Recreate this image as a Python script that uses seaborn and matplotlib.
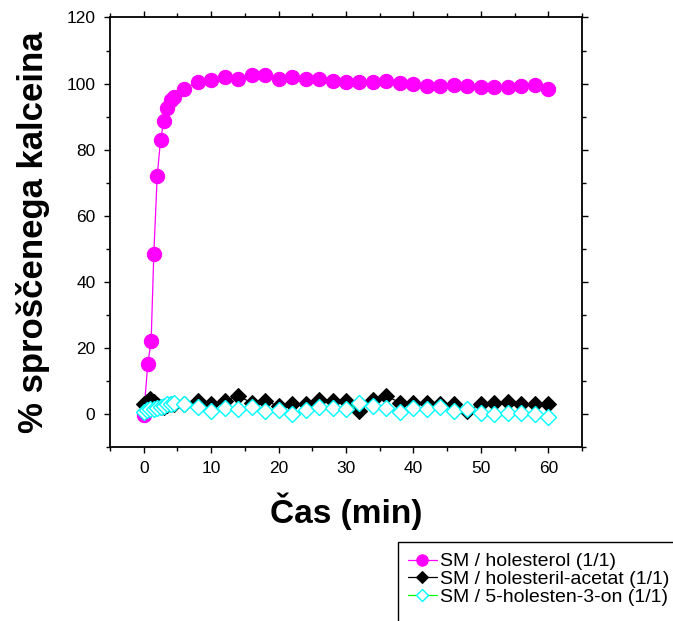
import matplotlib
matplotlib.use("Agg")
import matplotlib.pyplot as plt
import seaborn as sns
from matplotlib.ticker import MultipleLocator
from matplotlib.patches import Rectangle

# ---- data ----
t_chol = [0, 0.6, 1.1, 1.5, 2, 2.5, 3, 3.5, 4, 4.5, 6, 8, 10, 12, 14, 16, 18, 20,
          22, 24, 26, 28, 30, 32, 34, 36, 38, 40, 42, 44, 46, 48, 50, 52, 54, 56, 58, 60]
y_chol = [-0.5, 15.0, 22.0, 48.5, 72.0, 83.0, 88.8, 92.7, 95.0, 95.9, 98.3, 100.6, 101.1,
          102.0, 101.4, 102.5, 102.5, 101.4, 102.0, 101.5, 101.4, 100.8, 100.5, 100.6,
          100.4, 100.9, 100.3, 99.8, 99.3, 99.3, 99.5, 99.3, 99.0, 99.0, 99.0, 99.2, 99.6, 98.4]

t_acet = [0, 0.5, 1, 1.5, 2, 2.5, 3, 3.5, 4, 4.5, 6, 8, 10, 12, 14, 16, 18, 20,
          22, 24, 26, 28, 30, 32, 34, 36, 38, 40, 42, 44, 46, 48, 50, 52, 54, 56, 58, 60]
y_acet = [3.0, 3.5, 4.5, 3.5, 2.5, 2.0, 2.0, 2.5, 3.0, 3.0, 3.0, 3.9, 2.9, 3.9, 5.4, 3.3,
          3.9, 2.3, 3.0, 2.9, 4.1, 3.9, 3.9, 0.8, 4.1, 5.4, 3.3, 3.3, 3.3, 2.9, 2.9, 0.8,
          3.0, 3.3, 3.6, 3.0, 3.0, 3.0]

t_on = [0, 0.5, 1, 1.5, 2, 2.5, 3, 3.5, 4, 4.5, 6, 8, 10, 12, 14, 16, 18, 20,
        22, 24, 26, 28, 30, 32, 34, 36, 38, 40, 42, 44, 46, 48, 50, 52, 54, 56, 58, 60]
y_on = [0.5, 1.0, 1.3, 1.5, 1.8, 2.0, 2.3, 2.8, 3.0, 3.3, 2.9, 2.0, 0.8, 1.8, 1.3, 2.0,
        0.8, 1.0, -0.2, 1.0, 2.0, 1.8, 1.3, 3.3, 2.3, 1.8, 0.6, 1.8, 1.3, 2.0, 0.8, 1.3,
        0.3, -0.2, 0.3, 0.1, -0.2, -1.0]

labels = ["SM / holesterol (1/1)", "SM / holesteril-acetat (1/1)", "SM / 5-holesten-3-on (1/1)"]
xlabel = "Čas (min)"
ylabel = "% sproščenega kalceina"

# ---- style ----
sns.set_style("ticks")
plt.rcParams["font.family"] = ["Liberation Sans", "DejaVu Sans"]
plt.rcParams["text.color"] = "black"
plt.rcParams["axes.labelcolor"] = "black"
plt.rcParams["xtick.color"] = "black"
plt.rcParams["ytick.color"] = "black"

fig = plt.figure(figsize=(6.73, 6.21), dpi=100)
ax = fig.add_axes([110 / 673, 1 - 446.7 / 621, (582 - 110) / 673, (446.7 - 17.5) / 621])

sns.lineplot(x=t_chol, y=y_chol, ax=ax, color="#FF00FF", lw=0.9, marker="o",
             markersize=10.3, markeredgecolor="#FF00FF", markerfacecolor="#FF00FF",
             label=labels[0], sort=False, estimator=None)
sns.lineplot(x=t_acet, y=y_acet, ax=ax, color="black", lw=0.9, marker="D",
             markersize=8.0, markeredgecolor="black", markerfacecolor="black",
             label=labels[1], sort=False, estimator=None)
sns.lineplot(x=t_on, y=y_on, ax=ax, color="#00FF00", lw=0.9, marker="D",
             markersize=8.0, markeredgecolor="#00FFFF", markerfacecolor="white",
             markeredgewidth=1.0, label=labels[2], sort=False, estimator=None)

ax.set_xlim(-5, 65)
ax.set_ylim(-10, 120)
ax.xaxis.set_major_locator(MultipleLocator(10))
ax.xaxis.set_minor_locator(MultipleLocator(5))
ax.yaxis.set_major_locator(MultipleLocator(20))
ax.yaxis.set_minor_locator(MultipleLocator(10))

for s in ax.spines.values():
    s.set_visible(True)
    s.set_linewidth(1.3)
    s.set_color("black")

ax.tick_params(which="both", direction="out", top=True, right=True,
               labeltop=False, labelright=False, color="black", labelcolor="black",
               width=1.0)
ax.tick_params(which="major", length=4.5, labelsize=12.5, pad=6)
ax.tick_params(which="minor", length=2.8)

ax.set_xlabel(xlabel, fontsize=24, fontweight="bold", labelpad=12, color="black")
ax.set_ylabel(ylabel, fontsize=25, fontweight="bold", labelpad=12, color="black")

handles, labs = ax.get_legend_handles_labels()
ax.get_legend().remove()
leg = fig.legend(handles, labs, loc="upper left",
                 bbox_to_anchor=(398 / 673, 1 - 543 / 621),
                 bbox_transform=fig.transFigure,
                 fontsize=14, frameon=False, borderpad=0.5, labelspacing=0.0,
                 handlelength=1.5, handletextpad=0.15, borderaxespad=0,
                 markerscale=0.8)
for t in leg.get_texts():
    t.set_color("black")

# legend frame that runs off the right and bottom edges, as in the reference
frame = Rectangle((398 / 673, -0.1), 0.6, (621 - 542) / 621 + 0.1,
                  transform=fig.transFigure, fill=False, edgecolor="black", lw=1.0)
fig.patches.append(frame)

fig.savefig("out.png", dpi=100)
